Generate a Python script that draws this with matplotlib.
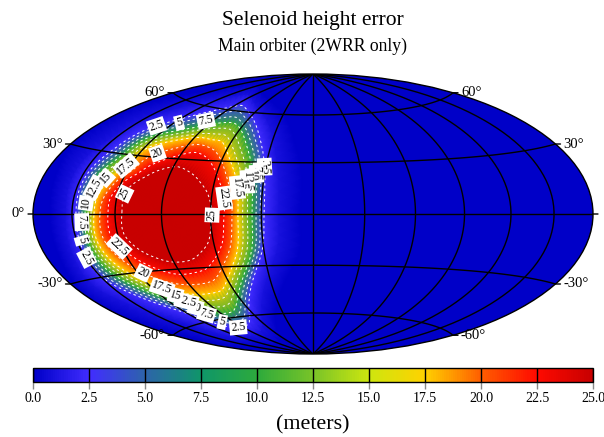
import numpy as np
import matplotlib
matplotlib.use('Agg')
import matplotlib.pyplot as plt
from matplotlib.cm import ScalarMappable
from matplotlib.colors import LinearSegmentedColormap, Normalize

plt.rcParams['font.family'] = ['Liberation Serif']

# error field: iso-value rings, degrees, same 18 spokes in each
ring_vals = [0, 1, 2.5, 10, 17.5, 20, 22.5, 25]
ring_lon = [
 [-166.5,-170.5,-177.0,-178.0,-178.3,-164.7,-145.5,-120.2,-36.3,-10.1,-7.5,-13.8,-66.7,-164.3,-171.9,-179.5,-179.5,-169.8],
 [-154.4,-156.2,-156.9,-153.9,-150.1,-133.5,-114.3,-91.2,-43.5,-24.5,-20.3,-26.4,-64.5,-123.4,-138.9,-152.5,-162.5,-157.8],
 [-147.1,-147.6,-146.4,-141.9,-134.7,-113.6,-93.3,-78.4,-49.4,-32.1,-28.4,-34.5,-66.8,-102.6,-120.3,-137.1,-149.4,-148.6],
 [-140.6,-140.4,-138.0,-132.0,-125.2,-99.3,-80.1,-65.6,-50.8,-38.5,-35.4,-39.6,-65.0,-87.0,-110.1,-127.6,-139.9,-142.5],
 [-134.3,-133.2,-127.9,-122.6,-116.5,-91.0,-75.4,-65.7,-54.6,-46.0,-43.7,-46.9,-64.2,-79.3,-101.7,-118.0,-130.6,-135.5],
 [-130.2,-128.7,-123.1,-116.3,-109.4,-86.4,-72.7,-64.2,-56.6,-49.5,-47.2,-50.6,-65.0,-77.7,-96.6,-111.7,-123.6,-130.5],
 [-124.7,-124.0,-118.4,-112.1,-103.4,-84.4,-73.4,-65.1,-58.4,-52.5,-52.0,-55.0,-67.0,-78.2,-93.0,-105.4,-116.2,-124.6],
 [-115.4,-115.5,-112.2,-106.7,-97.9,-86.9,-75.7,-69.0,-63.3,-59.9,-59.1,-62.5,-70.4,-78.7,-89.3,-98.3,-108.7,-115.7],
]
ring_lat = [
 [0.0,16.9,28.6,38.4,49.8,61.6,71.0,76.1,63.1,34.8,0.0,-31.7,-76.4,-74.5,-61.0,-49.3,-35.8,-19.2],
 [0.0,13.6,24.9,34.2,46.4,58.3,66.5,69.4,56.1,32.8,0.0,-29.2,-66.8,-70.3,-57.6,-46.0,-33.2,-18.2],
 [0.0,12.1,21.8,31.3,43.0,53.9,61.2,63.1,52.6,31.5,0.0,-27.9,-61.0,-65.4,-53.8,-42.7,-30.5,-16.8],
 [0.0,11.0,20.4,28.4,39.4,47.6,52.2,51.8,43.1,26.0,0.0,-25.4,-51.3,-57.0,-49.2,-39.7,-28.3,-15.7],
 [0.0,9.2,18.9,24.9,35.1,42.2,42.0,40.6,30.9,17.7,0.0,-21.8,-40.7,-44.8,-43.2,-36.1,-25.9,-14.1],
 [0.0,8.4,17.1,22.6,31.1,38.3,37.3,33.5,26.2,13.7,0.0,-19.4,-34.7,-38.8,-38.3,-33.2,-24.3,-12.8],
 [1.0,8.5,16.3,20.7,27.1,33.8,32.6,27.7,20.4,9.6,-1.1,-17.0,-28.8,-32.3,-32.7,-28.6,-21.6,-12.0],
 [1.0,9.7,14.9,18.8,23.5,25.7,22.2,17.8,12.3,5.1,-1.1,-14.6,-21.8,-25.5,-26.1,-24.1,-18.8,-10.2],
]
core_lon, core_lat, core_val = -87.8, -0.5, 26

# contour labels (lon, lat) for each level
labels = {
 2.5: [(-128.2,44.9),(-147.9,-20.2),(-31.1,27.3),(-91.9,-64.9)],
 5: [(-116.2,49.2),(-145.4,-12.2),(-34.3,27.3),(-93.5,-59.1)],
 7.5: [(-95.9,52.3),(-143.1,-3.8),(-36.5,23.1),(-101.2,-55.1)],
 10: [(-141.2,5.2),(-38.8,21.9),(-103.2,-51.0)],
 12.5: [(-136.8,12.5),(-41.2,18.4),(-108.1,-48.7)],
 15: [(-131.0,17.2),(-44.5,16.6),(-110.8,-44.8)],
 17.5: [(-121.7,23.9),(-47.9,14.8),(-112.8,-39.3)],
 20: [(-105.9,31.4),(-116.5,-30.6)],
 22.5: [(-51.3,9.1),(-124.1,-17.6)],
 25: [(-113.5,9.7),(-59.1,-0.6)],
}
lat_ticks = [60, 30, 0, -30, -60]
cbar_ticks = [0, 2.5, 5, 7.5, 10, 12.5, 15, 17.5, 20, 22.5, 25]
cmap_colors = ['#0000c8','#412dff','#2d64aa','#0f9669','#2daa3c','#78c328','#cde60f','#ffd200','#ff5f00','#ff0a00','#c80000']

# rounds the rings off between spokes
def smooth(a, n=5):
    a = np.asarray(a, float)
    m = len(a)
    t = np.arange(m*n)/n
    i = t.astype(int)
    f = t-i
    p0, p1, p2, p3 = a[(i-1) % m], a[i % m], a[(i+1) % m], a[(i+2) % m]
    r = 0.5*(2*p1+(p2-p0)*f+(2*p0-5*p1+4*p2-p3)*f**2+(3*p1-p0-3*p2+p3)*f**3)
    return np.append(r, r[0])

W, H = 604, 437
fig = plt.figure(figsize=(W/100, H/100), dpi=100)
ax = fig.add_axes([33/W, (H-354)/H, 560/W, 280/H], projection='hammer')
cmap = LinearSegmentedColormap.from_list('sel', cmap_colors)
norm = Normalize(0, 25)

lon = [smooth(r) for r in ring_lon]
lat = [smooth(r) for r in ring_lat]
n = len(lon[0])
lon = np.radians(np.array(lon+[np.full(n, core_lon)]))
lat = np.radians(np.array(lat+[np.full(n, core_lat)]))
val = np.array([np.full(n, float(v)) for v in ring_vals+[core_val]])

ax.set_facecolor(cmap(0))
ax.pcolormesh(lon, lat, val, shading='gouraud', cmap=cmap, norm=norm, zorder=1)
for lev, pos in labels.items():
    cs = ax.contour(lon, lat, val, levels=[lev], colors='white', linewidths=0.7,
                    linestyles=[(0, (2.5, 3))], zorder=2)
    pos = [(np.radians(a), np.radians(b)) for a, b in pos]
    for t in ax.clabel(cs, manual=pos, inline=False, fmt='%g', fontsize=8.5, colors='black', zorder=3):
        t.set_bbox(dict(facecolor='white', edgecolor='none', pad=1))
        t.set_zorder(3)

ax.set_longitude_grid(30)
ax.set_latitude_grid(30)
ax.set_longitude_grid_ends(90)
ax.grid(True, color='black', linewidth=1, linestyle='-', zorder=4)
ax.set_axisbelow(False)
ax.set_xticklabels([])
ax.set_yticklabels([])
ax.spines['geo'].set_linewidth(1)

for lt in lat_ticks:
    for s in (-1, 1):
        xy = (s*np.pi*0.9999, np.radians(lt))
        ax.annotate('', xy=xy, xytext=(s*5, 0), textcoords='offset pixels', annotation_clip=False,
                    arrowprops=dict(arrowstyle='-', lw=1, shrinkA=0, shrinkB=0, color='black'))
        if lt == 0 and s == 1:
            continue
        ax.annotate('%d\u00b0' % lt, xy=xy, xytext=(s*8, 0), textcoords='offset pixels',
                    annotation_clip=False, ha='right' if s < 0 else 'left', va='center', fontsize=10.5)

cax = fig.add_axes([33/W, (H-382)/H, 560/W, 14/H])
cb = fig.colorbar(ScalarMappable(norm, cmap), cax=cax, orientation='horizontal', ticks=cbar_ticks, format='%.1f')
cb.ax.tick_params(length=5, width=1, color='#888888', labelsize=10, pad=2)
cb.outline.set_linewidth(1)
for c in cbar_ticks:
    cax.axvline(c, color='black', lw=1)

fig.text(313/W, 1-425/H, '(meters)', ha='center', va='center', fontsize=15.8)
fig.text(313/W, 1-21/H, 'Selenoid height error', ha='center', va='center', fontsize=15.5)
fig.text(313/W, 1-46/H, 'Main orbiter (2WRR only)', ha='center', va='center', fontsize=12.7)
fig.savefig('out.png', dpi=100)
